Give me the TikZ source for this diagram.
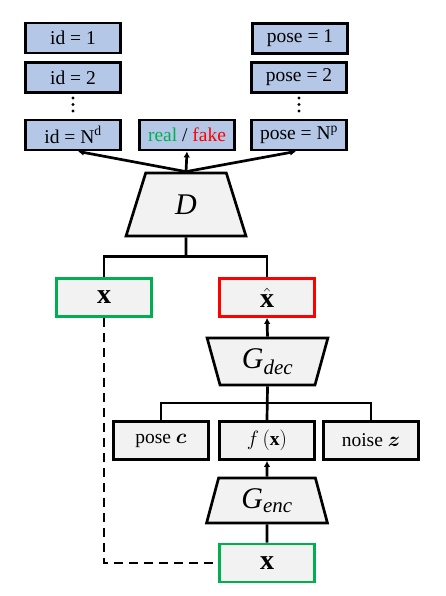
\documentclass[tikz,border=0pt]{standalone}
\usepackage{amsmath,amssymb}
\usepackage{bm}
\usepackage{fontspec}
\setmainfont{Liberation Serif}
\usetikzlibrary{shapes.geometric,arrows.meta}

\definecolor{idblue}{RGB}{180,199,231}
\definecolor{boxgray}{RGB}{242,242,242}
\definecolor{realgreen}{RGB}{0,176,80}
\definecolor{fakered}{RGB}{255,0,0}

\newcommand{\netname}[2]{$\text{\itshape #1}_{\text{\itshape #2}}$}

\tikzset{
    labelbox/.style={draw=black,fill=idblue,line width=2.8pt,minimum width=95pt,minimum height=30pt,inner sep=0pt,font=\fontsize{19.5}{22}\selectfont},
    netbox/.style={draw=black,fill=boxgray,line width=2.7pt,minimum width=95pt,minimum height=38pt,inner sep=0pt,font=\fontsize{19.5}{22}\selectfont},
    trap/.style={trapezium,draw=black,fill=boxgray,line width=2.7pt,trapezium stretches=true,inner sep=0pt,font=\fontsize{30}{32}\selectfont},
    conn/.style={line width=2.7pt},
    tip/.style={line width=2.7pt,-{Latex[length=6pt,width=6.5pt]}}
}

\begin{document}
\begin{tikzpicture}[x=1pt,y=-1pt]
    \useasboundingbox (0,0) rectangle (446,596);

    %Klassifikatorer
        \node[labelbox] (id1) at (73,38) {id = 1};
        \node[labelbox] (id2) at (73,77.5) {id = 2};
        \node[labelbox] (idN) at (73,135) {id = N\textsuperscript{d}};
        \node[labelbox] (rf) at (187,135) {\textcolor{realgreen}{real} / \textcolor{fakered}{fake}};
        \node[labelbox] (pose1) at (300,38.5) {pose = 1};
        \node[labelbox] (pose2) at (299,77.5) {pose = 2};
        \node[labelbox] (poseN) at (299,135) {pose = N\textsuperscript{p}};
        \foreach \y in {98,104.5,111} {
            \fill (73,\y) circle (1.6);
            \fill (299,\y) circle (1.6);
        }

    %Diskriminator
        \node[trap,trapezium left angle=75,trapezium right angle=75,minimum width=120pt,minimum height=63pt] (D) at (186,204.5) {\itshape D};
        \draw[tip] (D.north) -- ([xshift=5pt]idN.south);
        \draw[tip] (D.north) -- (rf.south);
        \draw[tip] (D.north) -- ([xshift=-3pt]poseN.south);

    %Bilder
        \node[netbox,draw=realgreen] (xl) at (104,297.5) {\fontsize{28}{30}\selectfont$\mathbf{x}$};
        \node[netbox,draw=fakered] (xhat) at (267,297.5) {\fontsize{28}{30}\selectfont$\hat{\mathbf{x}}$};
        \coordinate (dsplit) at (186,256.5);
        \draw[conn] (D.south) -- (dsplit);
        \draw[conn] (xl.north) |- (dsplit) -| (xhat.north);

    %Generator
        \node[trap,trapezium left angle=105,trapezium right angle=105,minimum width=121pt,minimum height=47pt] (Gdec) at (267.5,361.5) {\netname{G}{dec}};
        \draw[tip] (Gdec.north) -- (xhat.south);
        \node[netbox] (posec) at (161,440.5) {pose $\bm{c}$};
        \node[netbox] (fx) at (267,440.5) {$f\,(\mathbf{x})$};
        \node[netbox] (noisez) at (371,440.5) {noise $\bm{z}$};
        \coordinate (gsplit) at (267,403);
        \draw[conn] (Gdec.south) -- (fx.north);
        \draw[conn] (posec.north) |- (gsplit) -| (noisez.north);
        \node[trap,trapezium left angle=75,trapezium right angle=75,minimum width=121pt,minimum height=45pt] (Genc) at (267,500.5) {\netname{G}{enc}};
        \draw[tip] (Genc.north) -- (fx.south);
        \node[netbox,draw=realgreen] (xb) at (267,563) {\fontsize{28}{30}\selectfont$\mathbf{x}$};
        \draw[conn] (xb.north) -- (Genc.south);

    %Rekonstruksjon
        \draw[conn,dash pattern=on 9pt off 6pt] (xl.south) |- (xb.west);

\end{tikzpicture}
\end{document}
